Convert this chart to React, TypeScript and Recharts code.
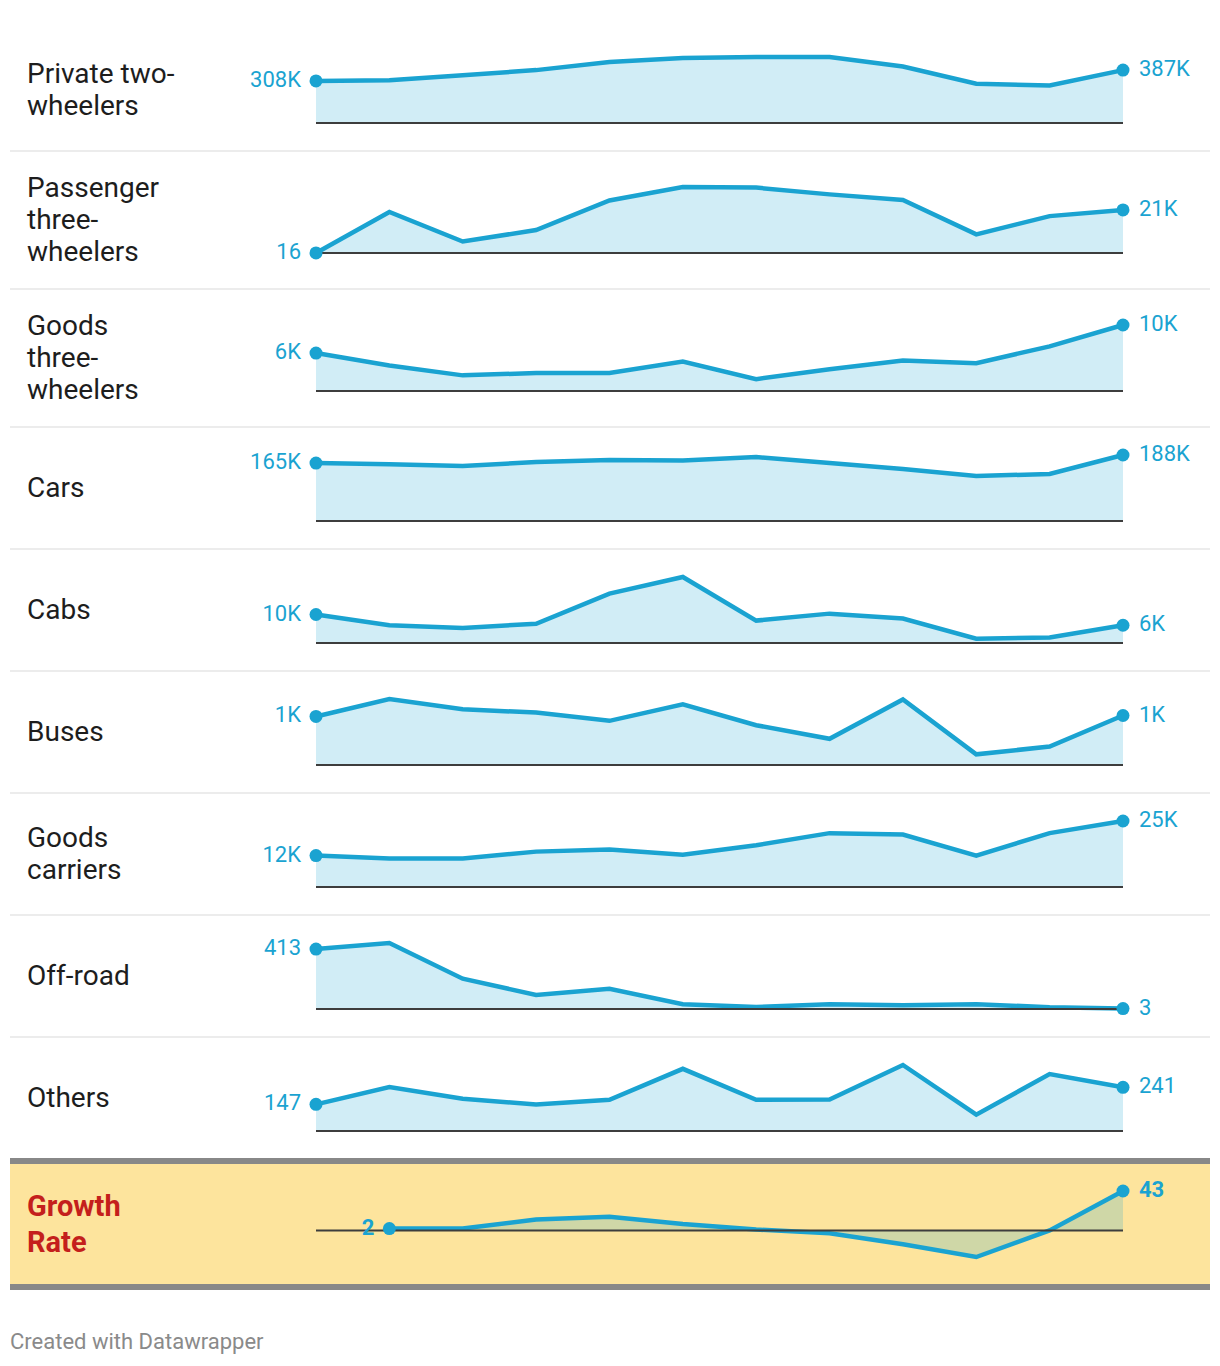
import React from 'react';
import { AreaChart, Area, XAxis, YAxis, ReferenceLine } from 'recharts';

// ---------- DATA ----------
const categories = [
  'Private two-wheelers',
  'Passenger three-wheelers',
  'Goods three-wheelers',
  'Cars',
  'Cabs',
  'Buses',
  'Goods carriers',
  'Off-road',
  'Others',
];
const growthLabelLines = ['Growth', 'Rate'];

const periods = [0, 1, 2, 3, 4, 5, 6, 7, 8, 9, 10, 11];

const privateTwoWheelers = [308000, 313000, 349000, 387000, 447000, 476000, 483000, 483000, 413000, 287000, 274000, 387000];
const passengerThreeWheelers = [16, 20000, 5600, 11200, 25600, 32200, 31900, 28600, 25900, 9100, 18000, 21000];
const goodsThreeWheelers = [5750, 3850, 2370, 2720, 2720, 4460, 1800, 3290, 4620, 4210, 6770, 10000];
const cars = [165000, 162000, 157000, 168000, 174000, 172000, 182000, 165000, 148000, 128000, 134000, 188000];
const cabs = [9800, 6100, 5200, 6600, 17000, 22700, 7700, 10100, 8400, 1500, 1900, 6100];
const buses = [1000, 1360, 1150, 1080, 910, 1250, 820, 540, 1350, 220, 380, 1020];
const goodsCarriers = [11900, 10800, 10800, 13400, 14200, 12200, 15800, 20400, 19900, 11900, 20400, 25000];
const offRoad = [413, 455, 209, 97, 139, 33, 14, 33, 26, 33, 12, 3];
const others = [147, 243, 178, 146, 172, 343, 172, 174, 364, 90, 314, 241];
const growthRate: (number | null)[] = [null, 2, 2, 12, 15, 7, 1, -3, -15, -29, 0, 43];

const seriesList = [
  privateTwoWheelers,
  passengerThreeWheelers,
  goodsThreeWheelers,
  cars,
  cabs,
  buses,
  goodsCarriers,
  offRoad,
  others,
];

// ---------- LAYOUT / STYLE ----------
const ROW_HEIGHTS = [122, 138, 138, 122, 122, 122, 122, 122, 122];
const TOP = 29;
const BLUE = '#1aa3d1';
const FONT = 'Roboto, "Noto Sans", sans-serif';
const PLOT_H = 66;
const CHART_W = 1200;
const MARGIN_L = 306;
const MARGIN_R = 87;

function fmt(v: number) {
  if (Math.abs(v) >= 1000) return Math.round(v / 1000) + 'K';
  return String(Math.round(v));
}

function Spark({ values, height, growth }: { values: (number | null)[]; height: number; growth?: boolean }) {
  const data = periods.map((p, i) => ({ p, v: values[i] }));
  const validIdx = values.map((v, i) => (v == null ? -1 : i)).filter((i) => i >= 0);
  const first = validIdx[0];
  const last = validIdx[validIdx.length - 1];
  const nums = values.filter((v) => v != null) as number[];
  const min = growth ? Math.min(...nums) : 0;
  const max = Math.max(...nums);
  const pad = (height - PLOT_H) / 2;

  const renderDot = (props: any) => {
    const { cx, cy, index, payload } = props;
    if (index !== first && index !== last) return <g key={'d' + index} />;
    const isFirst = index === first;
    const v = payload.v as number;
    return (
      <g key={'d' + index}>
        <circle cx={cx} cy={cy} r={6.5} fill={BLUE} />
        <text
          x={isFirst ? cx - 15 : cx + 16}
          y={cy - 1.5}
          textAnchor={isFirst ? 'end' : 'start'}
          dominantBaseline="central"
          fontSize={22}
          fontWeight={growth ? 700 : 400}
          fontFamily={FONT}
          fill={BLUE}
        >
          {fmt(v)}
        </text>
      </g>
    );
  };

  return (
    <AreaChart
      width={CHART_W}
      height={height}
      data={data}
      margin={{ top: pad, bottom: pad, left: MARGIN_L, right: MARGIN_R }}
    >
      <XAxis dataKey="p" type="number" domain={[0, 11]} hide />
      <YAxis type="number" domain={[min, max]} hide />
      <Area
        dataKey="v"
        type="linear"
        stroke={BLUE}
        strokeWidth={4.5}
        fill={BLUE}
        fillOpacity={0.2}
        baseValue={0}
        connectNulls={false}
        isAnimationActive={false}
        activeDot={false}
        dot={false}
      />
      <ReferenceLine y={0} stroke="#3d3d3d" strokeWidth={2} ifOverflow="extendDomain" />
      <Area
        dataKey="v"
        type="linear"
        stroke="none"
        fill="none"
        baseValue={0}
        connectNulls={false}
        isAnimationActive={false}
        activeDot={false}
        dot={renderDot}
      />
    </AreaChart>
  );
}

export default function App() {
  const tops: number[] = [];
  let acc = TOP;
  ROW_HEIGHTS.forEach((h) => {
    tops.push(acc);
    acc += h;
  });
  const growthTop = acc - 1;

  return (
    <div
      style={{
        position: 'absolute',
        left: 0,
        top: 0,
        width: 1220,
        height: 1366,
        background: '#fff',
        fontFamily: FONT,
        overflow: 'hidden',
      }}
    >
      {categories.map((cat, i) => (
        <div key={cat} style={{ position: 'absolute', left: 10, top: tops[i], width: 1200, height: ROW_HEIGHTS[i] }}>
          <div
            style={{
              position: 'absolute',
              left: 17,
              top: 0,
              height: ROW_HEIGHTS[i],
              width: 152,
              display: 'flex',
              alignItems: 'center',
              fontSize: 28,
              lineHeight: '32px',
              color: '#1d1d1d',
            }}
          >
            <div>{cat}</div>
          </div>
          <div style={{ position: 'absolute', left: 0, top: 0 }}>
            <Spark values={seriesList[i]} height={ROW_HEIGHTS[i]} />
          </div>
          {i < categories.length - 1 && (
            <div
              style={{
                position: 'absolute',
                left: 0,
                top: ROW_HEIGHTS[i] - 1,
                width: 1200,
                height: 2,
                background: '#ececec',
              }}
            />
          )}
        </div>
      ))}

      <div
        style={{
          position: 'absolute',
          left: 10,
          top: growthTop,
          width: 1200,
          height: 120,
          borderTop: '6px solid #888888',
          borderBottom: '6px solid #888888',
          background: '#fde49d',
        }}
      >
        <div
          style={{
            position: 'absolute',
            left: 17,
            top: 0,
            height: 120,
            width: 165,
            display: 'flex',
            alignItems: 'center',
            fontSize: 29,
            fontWeight: 700,
            lineHeight: '36px',
            color: '#c41f1c',
          }}
        >
          <div>
            {growthLabelLines[0]}
            <br />
            {growthLabelLines[1]}
          </div>
        </div>
        <div style={{ position: 'absolute', left: 0, top: 0 }}>
          <Spark values={growthRate} height={120} growth />
        </div>
      </div>

      <div
        style={{
          position: 'absolute',
          left: 10,
          top: 1328,
          fontSize: 22,
          lineHeight: '28px',
          color: '#8a8a8a',
        }}
      >
        Created with Datawrapper
      </div>
    </div>
  );
}
